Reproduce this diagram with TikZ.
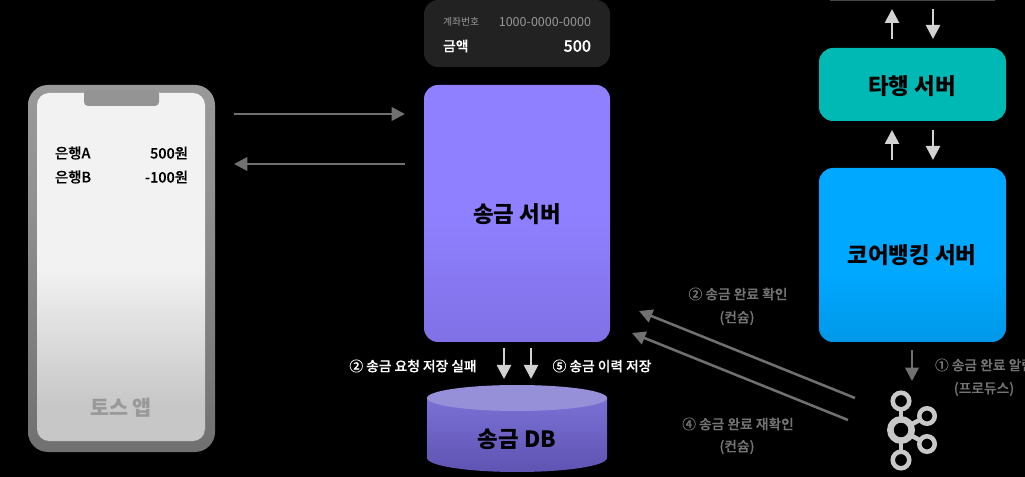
\documentclass[tikz,border=0pt]{standalone}
\usepackage{fontspec}
\setmainfont{Noto Sans CJK KR}
\newfontfamily\medfont[FakeBold=0.35]{Noto Sans CJK KR Medium}
\usetikzlibrary{arrows.meta,calc}
\definecolor{gray6}{HTML}{707070}
\definecolor{lightg}{HTML}{D2D2D2}
\definecolor{dimt}{HTML}{747474}
\definecolor{kaf}{HTML}{C8C8C8}
\definecolor{cardbg}{HTML}{222222}
\definecolor{teal}{HTML}{00B8B4}
\pgfdeclareverticalshading{phoneframe}{100bp}{color(0bp)=(white!44!black); color(25bp)=(white!44!black); color(60bp)=(white!57!black); color(75bp)=(white!60!black); color(100bp)=(white!60!black)}
\pgfdeclareverticalshading{phonescreen}{100bp}{color(0bp)=(white!78!black); color(30bp)=(white!78!black); color(50bp)=(white!95!black); color(75bp)=(white!95!black); color(100bp)=(white!95!black)}
\definecolor{svA}{HTML}{8F80FF}
\definecolor{svB}{HTML}{8071E6}
\pgfdeclareverticalshading{servershade}{100bp}{color(0bp)=(svB); color(25bp)=(svB); color(50bp)=(svA); color(100bp)=(svA)}
\definecolor{blA}{HTML}{00A8FF}
\definecolor{blB}{HTML}{0098E8}
\pgfdeclareverticalshading{blueshade}{100bp}{color(0bp)=(blB); color(25bp)=(blB); color(45bp)=(blA); color(100bp)=(blA)}
\definecolor{dbA}{HTML}{7B70D6}
\definecolor{dbB}{HTML}{5F54B2}
\definecolor{dbtop}{HTML}{9690D8}
\tikzset{
  box/.style={inner sep=0pt,outer sep=0pt,anchor=north west,rounded corners=10.5pt},
  txt/.style={inner sep=0pt,outer sep=0pt},
  grayarrow/.style={draw=gray6,line width=1.9pt,-{Triangle[length=10pt,width=10pt]}},
  lightarrow/.style={draw=lightg,line width=2pt,-{Triangle[length=10.5pt,width=10.5pt]}},
  whitelbl/.style={txt,text=white,font=\fontsize{10.3}{11}\medfont},
  dimlbl/.style={txt,text=dimt,font=\fontsize{10.3}{11}\medfont},
  phonetxt/.style={txt,text=black,font=\fontsize{10.8}{12}\medfont},
  title/.style={txt,text=black,font=\fontsize{16.8}{20}\selectfont\bfseries},
  ring/.style={draw=kaf,fill=black,line width=3.4pt,circle,inner sep=0pt},
  kafline/.style={draw=kaf,line width=3.4pt},
}
\begin{document}
\begin{tikzpicture}[x=0.75pt,y=-0.75pt]
\useasboundingbox (0,0) rectangle (1025,477);
\fill[black] (0,0) rectangle (1025,477);
\clip (0,0) rectangle (1025,477);
% phone
\node[box,rounded corners=15pt,minimum width=140.25pt,minimum height=275.25pt,shading=phoneframe] (phone) at (28,85) {};
\node[box,rounded corners=9pt,minimum width=126pt,minimum height=261pt,shading=phonescreen] (screen) at (37,93) {};
\fill[white!58!black,rounded corners=3pt] (84,90) rectangle (159,106);
\node[phonetxt,anchor=west] (a1) at (55,153) {은행A};
\node[phonetxt,anchor=east] (a2) at (188,153) {500원};
\node[phonetxt,anchor=west] (b1) at (55,177) {은행B};
\node[phonetxt,anchor=east] (b2) at (188,177) {-100원};
\node[txt,text=white!60!black,font=\fontsize{15.5}{18}\selectfont\bfseries] (app) at (121,408) {토스 앱};
% card
\node[box,rounded corners=10.5pt,minimum width=139.5pt,minimum height=50.25pt,fill=cardbg] (card) at (424,0) {};
\node[txt,anchor=west,text=white!60!black,font=\fontsize{7.4}{9}\selectfont] (c1) at (443,22) {계좌번호};
\node[txt,anchor=east,text=white!60!black,font=\fontsize{9.4}{10}\selectfont] (c2) at (591,22) {1000-0000-0000};
\node[txt,anchor=west,text=white,font=\fontsize{10.4}{12}\medfont] (c3) at (443,46) {금액};
\node[txt,anchor=east,text=white,font=\fontsize{12}{13}\medfont] (c4) at (591,46) {500};
% server
\node[box,minimum width=139.5pt,minimum height=192.75pt,shading=servershade] (server) at (424,85) {};
\node[title] (servert) at (517,214) {송금 서버};
% right column
\draw[draw=white!28!black,line width=1pt] (830,0) -- (995,0);
\node[box,minimum width=140.25pt,minimum height=54.75pt,fill=teal] (other) at (819,48) {};
\node[title] (othert) at (912,86) {타행 서버};
\node[box,minimum width=140.25pt,minimum height=130.5pt,shading=blueshade] (core) at (819,168) {};
\node[title] (coret) at (912,255) {코어뱅킹 서버};
% DB
\fill[bottom color=dbB,top color=dbA] (427,397) -- (427,458) arc[start angle=180,end angle=0,x radius=90,y radius=14] -- (607,397) -- cycle;
\fill[dbtop] (517,398) ellipse[x radius=90,y radius=13];
\node[title] (dbt) at (517,439) {송금 DB};
% app-server arrows
\coordinate (p1) at (234,114); \coordinate (s1) at (405,114);
\coordinate (s2) at (405,164); \coordinate (p2) at (234,164);
\draw[grayarrow] (p1) -- (s1);
\draw[grayarrow] (s2) -- (p2);
% server-db arrows
\coordinate (d1a) at (504,348); \coordinate (d1b) at (504,379);
\coordinate (d2a) at (531,348); \coordinate (d2b) at (531,379);
\draw[lightarrow] (d1a) -- (d1b);
\draw[lightarrow] (d2a) -- (d2b);
% right arrows
\coordinate (u1a) at (892,39); \coordinate (u1b) at (892,9);
\coordinate (v1a) at (933,9); \coordinate (v1b) at (933,39);
\coordinate (u2a) at (892,160); \coordinate (u2b) at (892,130);
\coordinate (v2a) at (933,130); \coordinate (v2b) at (933,160);
\draw[lightarrow] (u1a) -- (u1b);
\draw[lightarrow] (v1a) -- (v1b);
\draw[lightarrow] (u2a) -- (u2b);
\draw[lightarrow] (v2a) -- (v2b);
% kafka
\coordinate (ka) at (912,350); \coordinate (kb) at (912,381);
\draw[grayarrow] (ka) -- (kb);
\coordinate (k1) at (855,398); \coordinate (t1) at (639,311);
\coordinate (k2) at (848,420); \coordinate (t2) at (632,333);
\draw[grayarrow] (k1) -- (t1);
\draw[grayarrow] (k2) -- (t2);
% kafka logo
\draw[kafline] (901,401) -- (901,460);
\draw[kafline] (901,430) -- (927,416);
\draw[kafline] (901,430) -- (927,444);
\node[ring,minimum size=12.4pt] (kt) at (901,401) {};
\node[ring,minimum size=12.4pt] (kb2) at (901,460) {};
\node[ring,minimum size=11.6pt] (kr1) at (927,416) {};
\node[ring,minimum size=11.6pt] (kr2) at (927,444) {};
\node[ring,minimum size=16pt,line width=4.9pt] (kc) at (901,430) {};
% labels
\node[whitelbl] (l1) at (413,366) {② 송금 요청 저장 실패};
\node[whitelbl] (l2) at (602,366) {⑤ 송금 이력 저장};
\node[dimlbl] (l3) at (738,294) {② 송금 완료 확인};
\node[dimlbl] (l4) at (737,318) {(컨슘)};
\node[dimlbl] (l5) at (738,424) {④ 송금 완료 재확인};
\node[dimlbl] (l6) at (737,447) {(컨슘)};
\node[dimlbl,anchor=west] (l7) at (935,365) {① 송금 완료 알림};
\node[dimlbl] (l8) at (984,389) {(프로듀스)};
\end{tikzpicture}
\end{document}
